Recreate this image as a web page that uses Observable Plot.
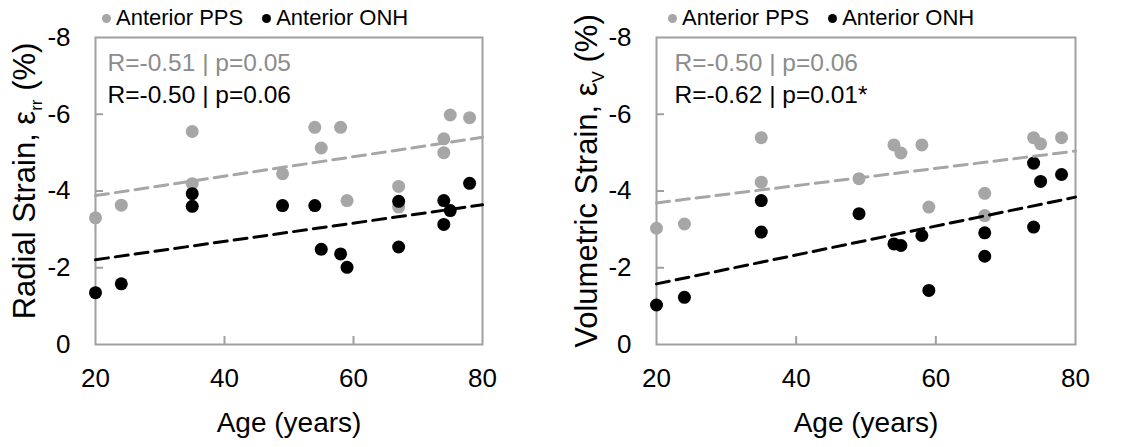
<!DOCTYPE html>
<html><head><meta charset="utf-8">
<script src="https://cdn.jsdelivr.net/npm/d3@7"></script>
<script src="https://cdn.jsdelivr.net/npm/@observablehq/plot@0.6"></script>
<style>
body{margin:0;background:#fff;font-family:"Liberation Sans",Arial,sans-serif;}
#wrap{display:flex;width:1138px;height:447px;overflow:hidden;}
.panel{position:relative;}
.legend{position:absolute;top:0;height:36px;display:flex;align-items:center;font-size:22px;color:#000;white-space:nowrap;}
.dot{width:9px;height:9px;border-radius:50%;display:inline-block;}
</style></head>
<body><div id="wrap"></div>
<script>
// ---- data ----
const ages = [20, 24, 35, 35, 49, 54, 55, 58, 59, 67, 67, 74, 74, 75, 78];
const radialPPS = [-3.30, -3.63, -5.55, -4.19, -4.45, -5.66, -5.12, -5.66, -3.75, -4.12, -3.58, -5.36, -5.00, -5.98, -5.91];
const radialONH = [-1.35, -1.58, -3.93, -3.60, -3.62, -3.62, -2.48, -2.36, -2.01, -3.73, -2.54, -3.75, -3.13, -3.49, -4.20];
const volPPS    = [-3.03, -3.14, -5.39, -4.23, -4.32, -5.20, -4.99, -5.20, -3.58, -3.94, -3.36, -5.39, -4.71, -5.23, -5.39];
const volONH    = [-1.03, -1.23, -3.75, -2.93, -3.41, -2.62, -2.58, -2.84, -1.41, -2.91, -2.30, -4.73, -3.06, -4.25, -4.43];
const trendAges = [20, 80];
const radialPPSTrend = [-3.88, -5.40];
const radialONHTrend = [-2.21, -3.64];
const volPPSTrend = [-3.69, -5.04];
const volONHTrend = [-1.58, -3.84];
const xTicks = [20, 40, 60, 80];
const yTicks = [0, -2, -4, -6, -8];
const seriesNames = ["Anterior PPS", "Anterior ONH"];
const statsRadial = ["R=-0.51 | p=0.05", "R=-0.50 | p=0.06"];
const statsVol = ["R=-0.50 | p=0.06", "R=-0.62 | p=0.01*"];
const xLabel = "Age (years)";

const GRAY = "#a6a6a6", GRAYTXT = "#8c8c8c", FRAME = "#a0a0a0";
const FONT = '"Liberation Sans", Arial, sans-serif';

function pts(ys) { return ages.map((a, i) => ({x: a, y: ys[i]})); }
function trend(ys) { return trendAges.map((a, i) => ({x: a, y: ys[i]})); }

function panel(o) {
  const wrap = document.createElement("div");
  wrap.className = "panel";
  wrap.style.width = o.width + "px";
  const svg = Plot.plot({
    width: o.width, height: 447,
    marginLeft: o.marginLeft, marginRight: o.marginRight, marginTop: 37, marginBottom: 103,
    style: {fontFamily: FONT, background: "#fff", color: "#000", overflow: "visible"},
    x: {domain: [20, 80]},
    y: {domain: [0, -8]},
    marks: [
      Plot.frame({stroke: FRAME, strokeWidth: 2}),
      Plot.axisY({ticks: [-2, -4, -6], tickSize: 8, dx: 8, fill: "none", stroke: FRAME, strokeWidth: 2, label: null}),
      Plot.axisX({ticks: [40, 60], tickSize: 8, dy: -8, fill: "none", stroke: FRAME, strokeWidth: 2, label: null}),
      Plot.axisY({ticks: yTicks, tickSize: 0, tickPadding: 25, tickFormat: d => String(d), fontSize: 26, label: null}),
      Plot.axisX({ticks: xTicks, tickSize: 0, tickPadding: 24, tickFormat: d => String(d), fontSize: 26, label: null}),
      Plot.text([xLabel], {frameAnchor: "bottom", dy: 79, fontSize: 28, lineAnchor: "middle"}),
      Plot.text([o.yLabel[0]], {frameAnchor: "left", dx: o.labelDx, dy: -10, rotate: -90, fontSize: 31, lineAnchor: "middle", textAnchor: "middle", className: "ylab"}),
      Plot.dot(pts(o.pps), {x: "x", y: "y", r: 6.5, fill: GRAY}),
      Plot.dot(pts(o.onh), {x: "x", y: "y", r: 6.5, fill: "#000"}),
      Plot.line(trend(o.ppsTrend), {x: "x", y: "y", stroke: GRAY, strokeWidth: 3, strokeDasharray: "13,7"}),
      Plot.line(trend(o.onhTrend), {x: "x", y: "y", stroke: "#000", strokeWidth: 3, strokeDasharray: "13,7"}),
      Plot.text([o.stats[0]], {frameAnchor: "top-left", dx: o.statsDx, dy: 26, fontSize: 24.5, fill: GRAYTXT, textAnchor: "start", lineAnchor: "middle"}),
      Plot.text([o.stats[1]], {frameAnchor: "top-left", dx: o.statsDx, dy: 58, fontSize: 24.5, fill: "#000", textAnchor: "start", lineAnchor: "middle"})
    ]
  });
  // subscript in y label
  const t = d3.select(svg).select(".ylab text");
  t.text(null);
  t.append("tspan").text(o.yLabel[0]);
  t.append("tspan").attr("dy", 7).attr("font-size", 17).text(o.yLabel[1]);
  t.append("tspan").attr("dy", -7).text(o.yLabel[2]);
  wrap.appendChild(svg);
  // legend
  const lg = document.createElement("div");
  lg.className = "legend";
  lg.style.left = o.legendLeft + "px";
  const cols = [GRAY, "#000"];
  seriesNames.forEach((n, i) => {
    const d = document.createElement("span"); d.className = "dot"; d.style.background = cols[i];
    d.style.marginRight = "5px";
    if (i > 0) d.style.marginLeft = "19px";
    const s = document.createElement("span"); s.textContent = n;
    lg.appendChild(d); lg.appendChild(s);
  });
  wrap.appendChild(lg);
  return wrap;
}

const W = document.getElementById("wrap");
W.appendChild(panel({width: 570, marginLeft: 95, marginRight: 88, pps: radialPPS, onh: radialONH,
  ppsTrend: radialPPSTrend, onhTrend: radialONHTrend, stats: statsRadial, statsDx: 12,
  yLabel: ["Radial Strain, ε", "rr", " (%)"], labelDx: -70, legendLeft: 102}));
W.appendChild(panel({width: 568, marginLeft: 86, marginRight: 63, pps: volPPS, onh: volONH,
  ppsTrend: volPPSTrend, onhTrend: volONHTrend, stats: statsVol, statsDx: 18,
  yLabel: ["Volumetric Strain, ε", "V", " (%)"], labelDx: -69, legendLeft: 98}));
</script>
</body></html>
